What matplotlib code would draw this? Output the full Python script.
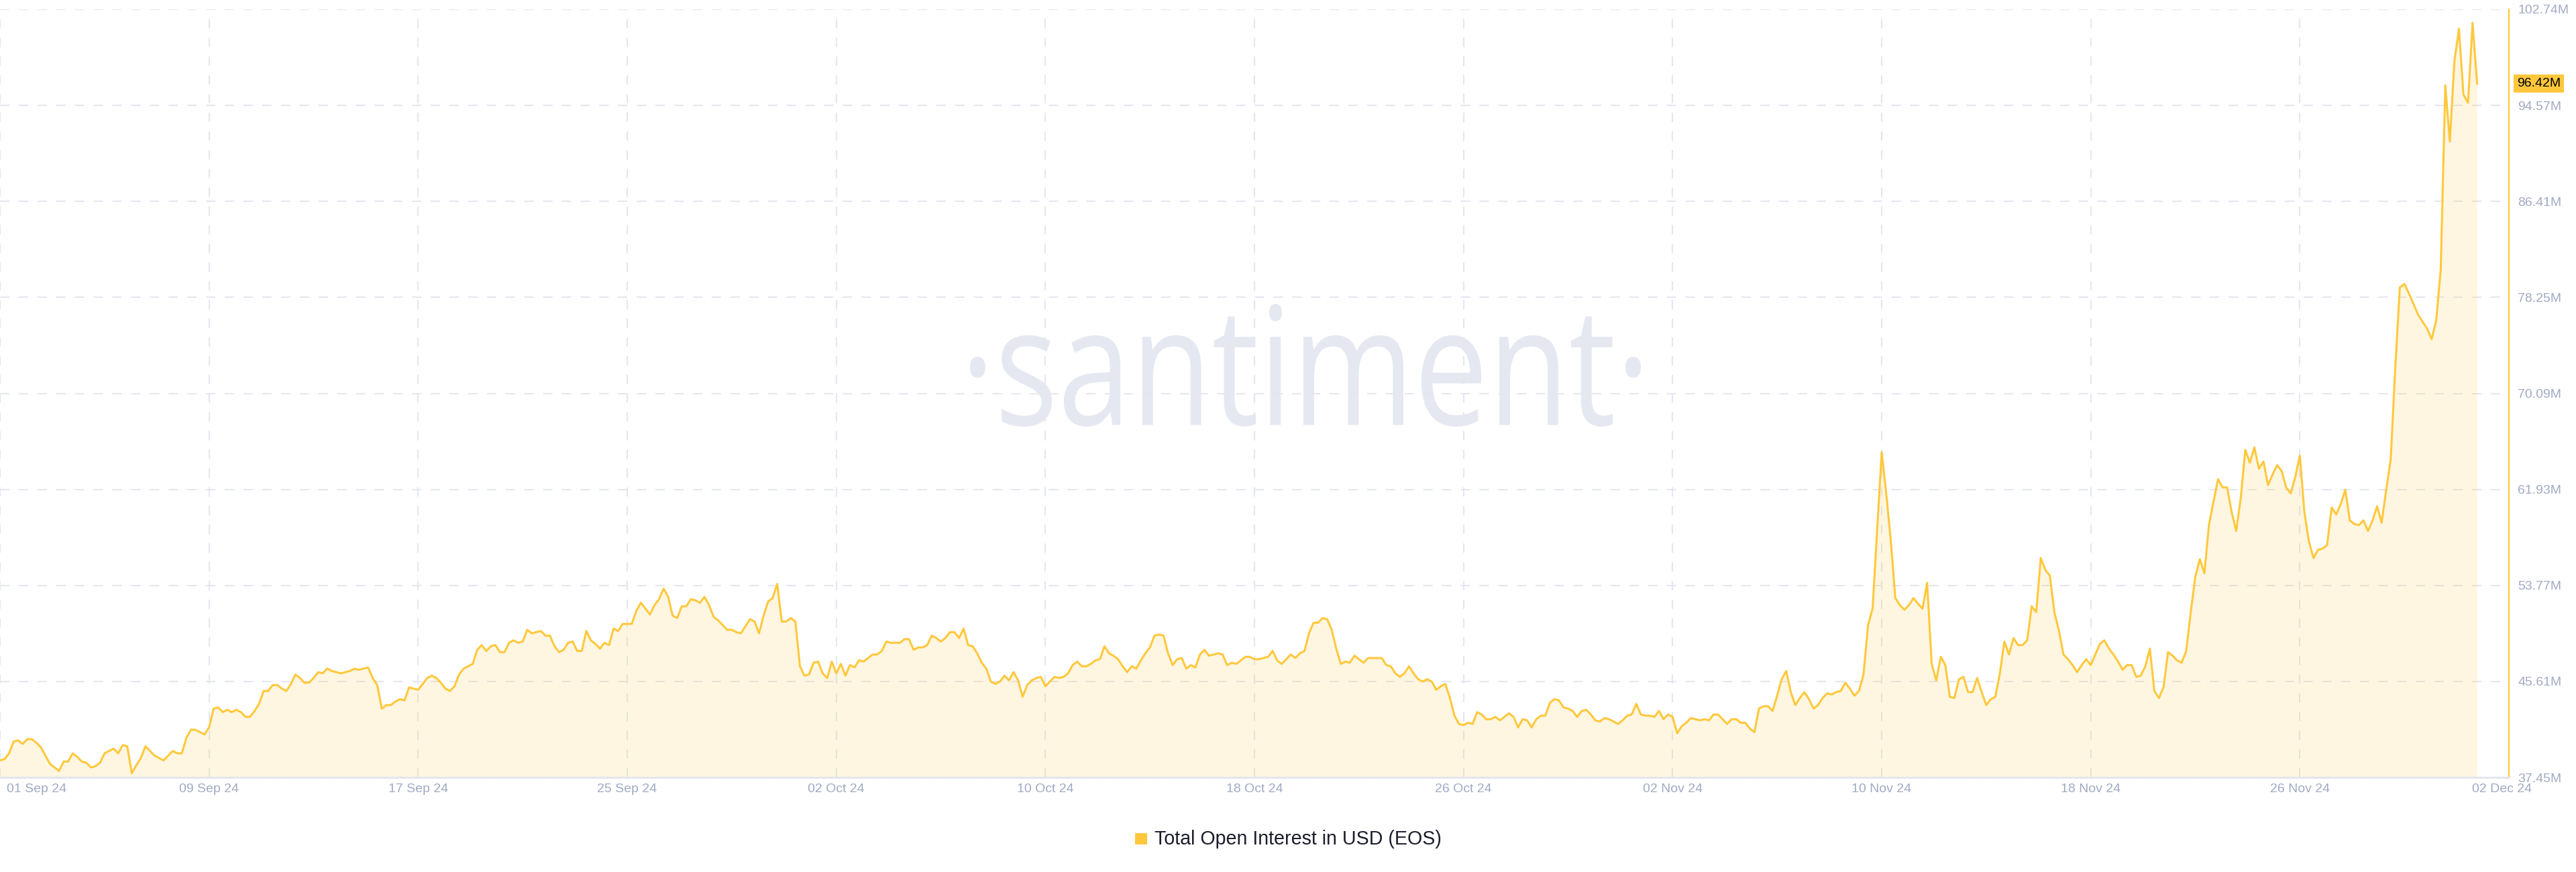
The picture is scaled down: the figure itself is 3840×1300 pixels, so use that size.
import numpy as np
import matplotlib.pyplot as plt
from matplotlib.textpath import TextPath
from matplotlib.patches import PathPatch, Rectangle
from matplotlib.font_manager import FontProperties
from matplotlib.transforms import Affine2D, ScaledTranslation, blended_transform_factory

# ----------------------------------------------------
# Data (Total Open Interest in USD, EOS, millions, 4h steps)
# ----------------------------------------------------
STEP_HOURS = 4

oi_sep_early = [
    38.9, 39.0, 39.5, 40.5, 40.6, 40.3, 40.7, 40.7, 40.4, 40.0,
    39.3, 38.6, 38.3, 38.0, 38.8, 38.8, 39.5, 39.2, 38.8, 38.7,
    38.3, 38.4, 38.7, 39.5, 39.7, 39.9, 39.5, 40.2, 40.1, 37.8,
    38.5, 39.1, 40.1, 39.7, 39.3, 39.1, 38.9, 39.3, 39.7, 39.5,
    39.5, 40.8, 41.5, 41.5, 41.3, 41.1, 41.7, 43.3, 43.4, 43.0,
    43.2, 43.0, 43.2, 43.0, 42.6, 42.6, 43.1, 43.7, 44.8, 44.8,
    45.3, 45.3, 45.0, 44.8, 45.4, 46.2, 45.9, 45.5, 45.5, 45.9,
    46.4, 46.3, 46.7, 46.5, 46.4, 46.3, 46.4, 46.5, 46.7, 46.6,
    46.7, 46.8, 45.9, 45.3, 43.3, 43.6, 43.6, 43.9, 44.1, 44.0,
    45.1, 45.0, 44.9, 45.4, 45.9, 46.1, 45.9, 45.5, 45.0, 44.8,
    45.2, 46.2, 46.7, 46.9, 47.1, 48.3, 48.7, 48.2, 48.6, 48.7,
    48.1, 48.1, 48.9, 49.1, 48.9, 49.0, 50.0, 49.7, 49.8, 49.9,
    49.5, 49.5, 48.6, 48.1, 48.3, 48.9, 49.0, 48.2, 48.2, 49.9,
    49.1, 48.8, 48.4, 48.9, 48.7, 50.1, 49.9, 50.5, 50.5, 50.5,
    51.6, 52.3, 51.8, 51.3, 52.1, 52.6, 53.5, 52.8,
]

oi_sep_late_oct = [
    51.2, 51.0, 52.0, 52.0, 52.6, 52.5, 52.3, 52.8, 52.1, 51.1,
    50.8, 50.4, 50.0, 50.0, 49.8, 49.7, 50.3, 50.9, 50.7, 49.7,
    51.2, 52.4, 52.7, 53.9, 50.7, 50.7, 51.0, 50.7, 46.9, 46.1,
    46.2, 47.2, 47.3, 46.3, 45.9, 47.3, 46.3, 47.1, 46.1, 47.0,
    46.8, 47.4, 47.3, 47.6, 47.9, 47.9, 48.2, 49.0, 48.9, 48.9,
    48.9, 49.2, 49.2, 48.3, 48.5, 48.5, 48.7, 49.5, 49.3, 49.0,
    49.3, 49.8, 49.8, 49.3, 50.1, 48.7, 48.6, 48.0, 47.2, 46.7,
    45.6, 45.4, 45.6, 46.1, 45.7, 46.4, 45.7, 44.3, 45.3, 45.7,
    45.9, 46.0, 45.2, 45.6, 46.0, 45.9, 46.0, 46.3, 47.0, 47.3,
    46.9, 46.9, 47.1, 47.4, 47.5, 48.6, 48.0, 47.8, 47.5, 46.9,
    46.4, 46.9, 46.7, 47.4, 48.0, 48.5, 49.5, 49.6, 49.5, 48.0,
    47.0, 47.5, 47.6, 46.7, 47.0, 46.8, 47.9, 48.3, 47.8, 47.9,
    48.0, 47.9, 47.0, 47.2, 47.1, 47.4, 47.7, 47.7, 47.5, 47.5,
    47.6, 47.7, 48.2, 47.4, 47.1, 47.5, 47.9, 47.6, 48.0, 48.2,
    49.7, 50.6, 50.6, 51.0, 50.9, 50.0, 48.4, 47.1,
]

oi_oct_nov = [
    47.3, 47.2, 47.8, 47.5, 47.2, 47.6, 47.6, 47.6, 47.6, 47.0,
    46.9, 46.3, 46.0, 46.3, 46.9, 46.3, 45.8, 45.6, 45.8, 45.6,
    44.9, 45.2, 45.4, 44.2, 42.7, 42.0, 41.9, 42.1, 42.0, 43.0,
    42.8, 42.4, 42.4, 42.6, 42.3, 42.6, 42.9, 42.6, 41.7, 42.4,
    42.3, 41.7, 42.4, 42.7, 42.7, 43.8, 44.1, 44.0, 43.4, 43.3,
    43.1, 42.6, 43.1, 43.2, 42.8, 42.3, 42.2, 42.5, 42.4, 42.2,
    42.0, 42.3, 42.7, 42.8, 43.7, 42.8, 42.7, 42.7, 42.6, 43.1,
    42.4, 42.8, 42.6, 41.2, 41.8, 42.1, 42.5, 42.4, 42.3, 42.4,
    42.3, 42.8, 42.8, 42.4, 42.0, 42.4, 42.4, 42.1, 42.1, 41.6,
    41.3, 43.3, 43.5, 43.5, 43.1, 44.4, 45.8, 46.5, 44.7, 43.6,
    44.2, 44.7, 44.1, 43.3, 43.6, 44.2, 44.6, 44.5, 44.7, 44.8,
    45.5, 45.0, 44.4, 44.8, 46.2, 50.4, 51.8, 58.4, 65.1, 61.6,
    57.6, 52.7, 52.1, 51.7, 52.1, 52.7, 52.2, 51.8, 54.0, 47.1,
    45.7, 47.7, 47.0,
]

oi_nov_late = [
    44.3, 44.2, 45.8, 46.0, 44.7, 44.7, 45.9, 44.7, 43.6, 44.1,
    44.3, 46.3, 49.0, 47.9, 49.3, 48.7, 48.7, 49.1, 52.0, 51.5,
    56.1, 55.1, 54.6, 51.5, 49.9, 47.9, 47.5, 47.0, 46.4, 47.0,
    47.5, 47.0, 47.9, 48.8, 49.1, 48.4, 47.9, 47.3, 46.6, 47.0,
    47.0, 46.0, 46.1, 46.9, 48.4, 44.8, 44.2, 45.1, 48.1, 47.8,
    47.4, 47.2, 48.2, 51.5, 54.5, 56.0, 54.8, 58.9, 60.9, 62.8,
    62.1, 62.1, 60.0, 58.4, 61.2, 65.3, 64.2, 65.5, 63.7, 64.3,
    62.3, 63.2, 64.0, 63.5, 62.1, 61.6, 63.0, 64.8, 60.0, 57.5,
    56.1, 56.8, 56.9, 57.2, 60.4, 59.8, 60.7, 61.9, 59.3, 59.0,
    58.9, 59.3, 58.4, 59.3, 60.5, 59.1, 61.9, 64.5,
]

oi_dec = [
    72.3, 79.1, 79.4, 78.6, 77.7, 76.8, 76.2, 75.6, 74.7, 76.3,
    80.6, 96.3, 91.5, 98.3, 101.1, 95.5, 94.8, 101.6, 96.42,
]

x_labels = ["01 Sep 24", "09 Sep 24", "17 Sep 24", "25 Sep 24", "02 Oct 24",
            "10 Oct 24", "18 Oct 24", "26 Oct 24", "02 Nov 24", "10 Nov 24",
            "18 Nov 24", "26 Nov 24", "02 Dec 24"]
y_labels = ["37.45M", "45.61M", "53.77M", "61.93M", "70.09M",
            "78.25M", "86.41M", "94.57M", "102.74M"]
series_name = "Total Open Interest in USD (EOS)"
last_value = 96.42
TOTAL_HOURS = 92 * 24

values = np.array(oi_sep_early + oi_sep_late_oct + oi_oct_nov + oi_nov_late + oi_dec)
hours = np.arange(len(values)) * STEP_HOURS

# ----------------------------------------------------
# Style
# ----------------------------------------------------
LINE = "#ffc83c"
GRID = "#e4e7f0"
TICK = "#a1aac4"
W, H = 3840, 1300

plt.rcParams["font.family"] = ["Liberation Sans", "DejaVu Sans"]

fig = plt.figure(figsize=(W / 100, H / 100), dpi=100)
fig.patch.set_facecolor("white")
ax = fig.add_axes([0, (H - 1159) / H, 3740 / W, (1159 - 14) / H])

y_min = float(y_labels[0][:-1])
y_max = float(y_labels[-1][:-1])

# ----------------------------------------------------
# Watermark
# ----------------------------------------------------
tp = TextPath((0, 0), "\u00b7santiment\u00b7", size=100, prop=FontProperties(family="Open Sans"))
ext = tp.get_extents()
x0, x1 = 1446 / W, 2446 / W
y0, y1 = (H - 636) / H, (H - 453) / H
wm_tr = (Affine2D().translate(-ext.x0, -ext.y0)
         .scale((x1 - x0) / ext.width, (y1 - y0) / ext.height)
         .translate(x0, y0) + fig.transFigure)
wm = PathPatch(tp, transform=wm_tr, facecolor="#e6e8f1", edgecolor="none", zorder=0.2)
wm.set_clip_on(False)
ax.add_patch(wm)

# ----------------------------------------------------
# Series
# ----------------------------------------------------
ax.fill_between(hours, values, y_min, color=LINE, alpha=0.15, linewidth=0, zorder=2)
ax.plot(hours, values, color=LINE, linewidth=2.2, zorder=3)

ax.set_xlim(0, TOTAL_HOURS)
ax.set_ylim(y_min, y_max)

# ----------------------------------------------------
# Axes / grid
# ----------------------------------------------------
ax.set_axisbelow(True)
ax.grid(True, color=GRID, linestyle=(0, (6.7, 6.7)), linewidth=1.5)

ax.set_xticks(np.linspace(0, TOTAL_HOURS, len(x_labels)))
ax.set_xticklabels(x_labels)
ax.yaxis.tick_right()
ax.set_yticks([float(l[:-1]) for l in y_labels])
ax.set_yticklabels(y_labels)

ax.tick_params(axis="x", length=0, pad=6.5, labelsize=14, labelcolor=TICK)
ax.tick_params(axis="y", length=0, pad=9.4, labelsize=14, labelcolor=TICK)

for s in ["top", "left"]:
    ax.spines[s].set_visible(False)
ax.spines["bottom"].set_color("#e3e6ef")
ax.spines["bottom"].set_linewidth(2)
ax.spines["right"].set_color(LINE)
ax.spines["right"].set_linewidth(1.6)

xt = ax.get_xticklabels()
xt[0].set_horizontalalignment("left")
xt[0].set_transform(xt[0].get_transform() + ScaledTranslation(0.1, 0, fig.dpi_scale_trans))
xt[-1].set_transform(xt[-1].get_transform() + ScaledTranslation(-0.1, 0, fig.dpi_scale_trans))

# last value badge
badge_tr = blended_transform_factory(ax.transAxes, ax.transData) + ScaledTranslation(0.12, 0, fig.dpi_scale_trans)
ax.text(1.0, last_value, f"{last_value:.2f}M", transform=badge_tr, ha="left", va="center",
        fontsize=14, color="#000000", zorder=5, clip_on=False,
        bbox=dict(boxstyle="square,pad=0.25", facecolor=LINE, edgecolor="none"))

# ----------------------------------------------------
# Legend
# ----------------------------------------------------
fig.add_artist(Rectangle((1692 / W, (H - 1259) / H), 18 / W, 17 / H,
                         transform=fig.transFigure, facecolor=LINE, edgecolor="none"))
fig.text(1721 / W, (H - 1251) / H, series_name, fontsize=20.6, va="center", ha="left", color="#1b1d2b")

fig.savefig("out.png", dpi=100, facecolor="white")
